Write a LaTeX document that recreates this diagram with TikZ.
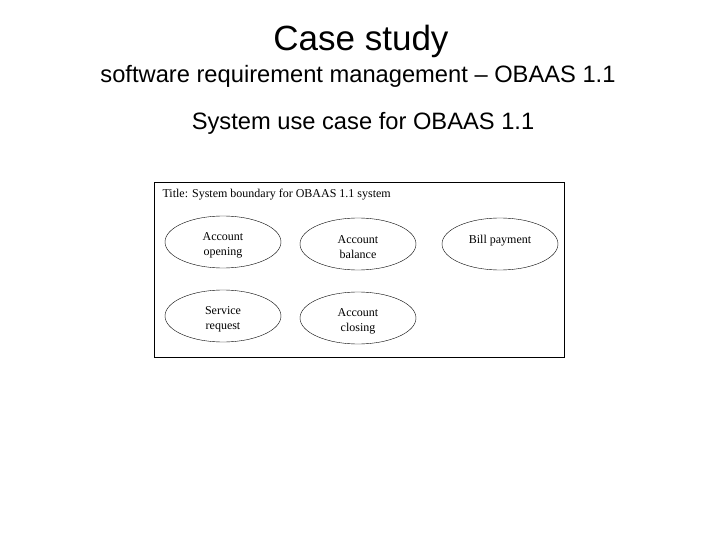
\documentclass[tikz,border=0pt]{standalone}
\usepackage{fontspec}
\setmainfont{Liberation Sans}
\newfontfamily\boxfont{Liberation Serif}
\usetikzlibrary{shapes, positioning}

\begin{document}
\begin{tikzpicture}[x=1pt, y=-1pt,
  usecase/.style={draw, ellipse, minimum width=116pt, minimum height=52pt, inner sep=0pt, align=center, font=\boxfont\fontsize{12}{15}\selectfont},
  heading/.style={anchor=base, font=\fontsize{23.7}{28}\selectfont}]
  \useasboundingbox (0, 0) rectangle (720, 540);
  % Titles
  \node[anchor=base] (title) at (361, 51) {\fontsize{35}{40}\selectfont Case study};
  \node[heading] (sub) at (358, 83) {software requirement management -- OBAAS 1.1};
  \node[heading] (cap) at (363, 130) {System use case for OBAAS 1.1};

  % System boundary
  \node[draw, minimum width=410pt, minimum height=175pt, inner sep=0pt] (sys) at (359, 269.5) {};
  \node[anchor=west, font=\boxfont\fontsize{12}{14}\selectfont] (systitle) at (159, 195) {Title: System boundary for OBAAS 1.1 system};

  % Use cases
  \node[usecase] (open) at (223, 242) {\rule{0pt}{15pt}Account\\opening};
  \node[usecase] (bal) at (358, 244) {\rule{0pt}{15pt}Account\\balance};
  \node[usecase] (bill) at (500, 244) {\raisebox{10pt}{Bill payment}};
  \node[usecase] (serv) at (223, 316) {\rule{0pt}{15pt}Service\\request};
  \node[usecase] (close) at (358, 318) {\rule{0pt}{15pt}Account\\closing};
\end{tikzpicture}
\end{document}
